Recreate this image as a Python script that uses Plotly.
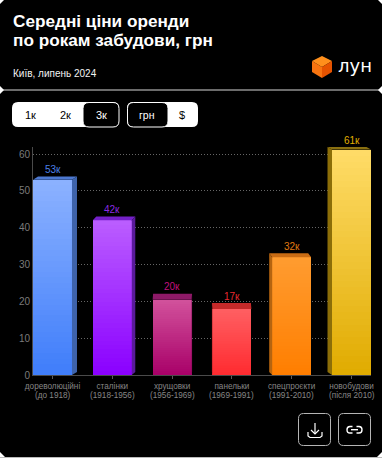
import plotly.graph_objects as go

# ---- data ----
categories = ["дореволюційні", "сталінки", "хрущовки", "панельки", "спецпроєкти", "новобудови"]
periods = ["(до 1918)", "(1918-1956)", "(1956-1969)", "(1969-1991)", "(1991-2010)", "(після 2010)"]
values = [53, 42, 20.4, 17.9, 32, 61.2]
value_labels = ["53к", "42к", "20к", "17к", "32к", "61к"]
y_ticks = [0, 10, 20, 30, 40, 50, 60]

# ---- styles ----
grad_top = ["#8cb2ff", "#bb5eff", "#d2529c", "#ff5f62", "#ff9c30", "#ffdc68"]
grad_bot = ["#3f7dfa", "#8a00ff", "#a80068", "#ff2a2f", "#ff7e00", "#e0ab00"]
side_col = ["#3e63ab", "#5a1a9c", "#7a0a52", "#a81f24", "#b56410", "#8c6e08"]
top_col = ["#4c78d0", "#7420c8", "#8e1a68", "#c52a2a", "#c96c14", "#8a7010"]
label_col = ["#4d80e8", "#8a2be2", "#c0107f", "#e82a30", "#e07a10", "#e0b000"]
depth_x_px = [5, 3.5, 0.5, -0.5, -3, -4.5]
depth_y_px = [3.2, 3.8, 6, 6, 4, 2.5]

W, H = 382, 458
ML, MR, MT, MB = 33, 11, 147, 83
PW, PH = W - ML - MR, H - MT - MB
BAR_W = 0.652
Y_MAX = 61.9
X_MIN, X_MAX = -BAR_W / 2, 5 + BAR_W / 2
XS = PW / (X_MAX - X_MIN)
YS = PH / Y_MAX
N_SEG = 36


def X(px):
    return (px - ML) / PW


def Y(py):
    return (H - MB - py) / PH


def hex2rgb(c):
    return [int(c[i:i + 2], 16) for i in (1, 3, 5)]


def mix(a, b, t):
    ra, rb = hex2rgb(a), hex2rgb(b)
    return "rgb(%d,%d,%d)" % tuple(round(ra[k] + (rb[k] - ra[k]) * t) for k in range(3))


fig = go.Figure()
xs = list(range(len(values)))

# gradient front faces: stacked slices of each value
for s in range(N_SEG):
    t = (s + 0.5) / N_SEG
    fig.add_bar(
        x=xs,
        y=[v / N_SEG for v in values],
        width=BAR_W,
        marker=dict(color=[mix(grad_bot[i], grad_top[i], t) for i in xs], line=dict(width=0)),
        showlegend=False,
        hoverinfo="skip",
    )

# extruded faces derived from the values
for i, v in enumerate(values):
    dx = depth_x_px[i] / XS
    dy = depth_y_px[i] / YS
    dyb = 3 / YS
    x0, x1 = i - BAR_W / 2, i + BAR_W / 2
    fig.add_scatter(
        x=[x0, x1, x1 + dx, x0 + dx, x0],
        y=[v, v, v + dy, v + dy, v],
        mode="lines", fill="toself", fillcolor=top_col[i], line=dict(width=0),
        showlegend=False, hoverinfo="skip",
    )
    edge = x1 if dx > 0 else x0
    fig.add_scatter(
        x=[edge, edge + dx, edge + dx, edge, edge],
        y=[v, v + dy, dyb, 0, v],
        mode="lines", fill="toself", fillcolor=side_col[i], line=dict(width=0),
        showlegend=False, hoverinfo="skip",
    )

shapes = []
annots = []

# value labels
for i, v in enumerate(values):
    annots.append(dict(xref="x", yref="y", x=i, y=v, text=value_labels[i], showarrow=False,
                       xanchor="center", yanchor="bottom", yshift=depth_y_px[i] + 0.5, borderpad=0,
                       font=dict(family="Liberation Sans", size=10, color=label_col[i])))


def rrect(x0, y0, x1, y1, r):
    return (
        f"M{X(x0+r)},{Y(y0)} L{X(x1-r)},{Y(y0)} Q{X(x1)},{Y(y0)} {X(x1)},{Y(y0+r)} "
        f"L{X(x1)},{Y(y1-r)} Q{X(x1)},{Y(y1)} {X(x1-r)},{Y(y1)} "
        f"L{X(x0+r)},{Y(y1)} Q{X(x0)},{Y(y1)} {X(x0)},{Y(y1-r)} "
        f"L{X(x0)},{Y(y0+r)} Q{X(x0)},{Y(y0)} {X(x0+r)},{Y(y0)} Z"
    )


def poly(pts):
    return "M" + " L".join(f"{X(a)},{Y(b)}" for a, b in pts) + " Z"


def line(pts):
    return "M" + " L".join(f"{X(a)},{Y(b)}" for a, b in pts)


def shape(path, fill="rgba(0,0,0,0)", stroke=None, w=1):
    shapes.append(dict(type="path", xref="paper", yref="paper", path=path, fillcolor=fill,
                       line=dict(color=stroke or "rgba(0,0,0,0)", width=w if stroke else 0), layer="above"))


def text(s, px, py, size, color="#fff", bold=False, anchor="center", family="Liberation Sans"):
    annots.append(dict(xref="paper", yref="paper", x=X(px), y=Y(py), text=f"<b>{s}</b>" if bold else s,
                       showarrow=False, xanchor=anchor, yanchor="middle", borderpad=0,
                       font=dict(family=family, size=size, color=color)))


# header
text("Середні ціни оренди", 12, 21, 17.2, bold=True, anchor="left")
text("по рокам забудови, грн", 12, 40, 17.2, bold=True, anchor="left")
text("Київ, липень 2024", 12, 73, 10, color="#f2f2f2", anchor="left")

# logo
shape(poly([(322, 56), (332, 61), (322, 67), (312, 61)]), fill="#ff8f1c")
shape(poly([(312, 61), (322, 67), (322, 78), (312, 72)]), fill="#f87410")
shape(poly([(332, 61), (322, 67), (322, 78), (332, 72)]), fill="#e65300")
text("лун", 337, 66, 18, anchor="left", family="DejaVu Sans")

# divider and card notches
shape(line([(3, 90), (379, 90)]), stroke="#d8d8d8", w=1)
shape(poly([(0, 86), (4, 90), (0, 94)]), fill="#fff")
shape(poly([(382, 86), (378, 90), (382, 94)]), fill="#fff")
shape(poly([(0, 0), (4, 0), (0, 4)]), fill="#fff")
shape(poly([(382, 0), (378, 0), (382, 4)]), fill="#fff")
shape(poly([(0, 452), (0, 458), (6, 458)]), fill="#fff")
shape(poly([(382, 452), (382, 458), (376, 458)]), fill="#fff")
shape(line([(0, 457.5), (382, 457.5)]), stroke="#bbbbbb", w=1)

# toggle groups
shape(rrect(12, 102, 119, 127, 6), fill="#fff")
shape(rrect(83, 102.5, 119, 127, 6), fill="#000", stroke="#fff", w=1)
text("1к", 30, 115, 11, color="#000")
text("2к", 65, 115, 11, color="#000")
text("3к", 101, 115, 11, color="#fff")
shape(rrect(127, 102, 198, 127, 6), fill="#fff")
shape(rrect(127.5, 102.5, 168, 127, 6), fill="#000", stroke="#fff", w=1)
text("грн", 147, 115, 10.5, color="#fff")
text("$", 182, 115, 11, color="#000")

# action buttons
shape(rrect(298.5, 413.5, 330.5, 445.5, 5), stroke="#b5b5b5", w=1)
shape(rrect(338.5, 413.5, 370.5, 445.5, 5), stroke="#b5b5b5", w=1)
shape(line([(315, 423), (315, 434)]), stroke="#fff", w=1.2)
shape(line([(311, 430), (315, 434), (319, 430)]), stroke="#fff", w=1.2)
shape(line([(308, 432), (308, 436), (310, 437.5), (320, 437.5), (322, 436), (322, 432)]), stroke="#fff", w=1.2)
shape(f"M{X(352.5)},{Y(426.5)} L{X(350)},{Y(426.5)} Q{X(347)},{Y(426.5)} {X(347)},{Y(429.7)} "
      f"Q{X(347)},{Y(433)} {X(350)},{Y(433)} L{X(352.5)},{Y(433)}", stroke="#fff", w=1.4)
shape(f"M{X(356.5)},{Y(426.5)} L{X(359)},{Y(426.5)} Q{X(362)},{Y(426.5)} {X(362)},{Y(429.7)} "
      f"Q{X(362)},{Y(433)} {X(359)},{Y(433)} L{X(356.5)},{Y(433)}", stroke="#fff", w=1.4)
shape(line([(351, 429.7), (358, 429.7)]), stroke="#fff", w=1.4)

# second line of the category labels
for i, p in enumerate(periods):
    annots.append(dict(xref="x", yref="paper", x=i, y=Y(395), text=p, showarrow=False, xanchor="center",
                       yanchor="middle", borderpad=0, font=dict(family="Liberation Sans", size=8.2, color="#868686")))

fig.update_layout(
    width=W, height=H,
    margin=dict(l=ML, r=MR, t=MT, b=MB, pad=0, autoexpand=False),
    paper_bgcolor="#000", plot_bgcolor="#000",
    barmode="stack", bargap=0,
    showlegend=False,
    shapes=shapes, annotations=annots,
    xaxis=dict(
        range=[X_MIN, X_MAX], tickvals=xs, ticktext=categories, showgrid=False, zeroline=False,
        showline=True, linecolor="#4a4a4a", linewidth=1,
        ticks="outside", ticklen=3, tickcolor="#5a5a5a", tickwidth=1,
        tickfont=dict(family="Liberation Sans", size=8.2, color="#868686"),
        fixedrange=True,
    ),
    yaxis=dict(
        range=[0, Y_MAX], tickvals=y_ticks, showgrid=True, gridcolor="#666666", griddash="1px,2px", gridwidth=1,
        zeroline=False, showline=True, linecolor="#4a4a4a", linewidth=1, ticks="",
        tickfont=dict(family="Liberation Sans", size=10, color="#7a7a7a"),
        fixedrange=True,
    ),
)

fig.write_html(
    "out.html",
    config=dict(displayModeBar=False),
    post_script="document.body.style.margin='0';document.body.style.background='#000';document.body.style.overflow='hidden';",
)
